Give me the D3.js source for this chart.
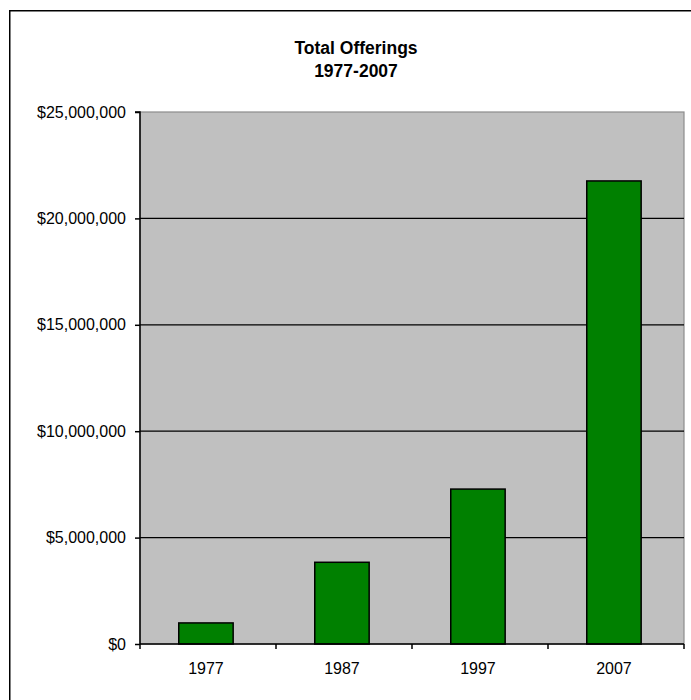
<!DOCTYPE html>
<html>
<head>
<meta charset="utf-8">
<script src="https://cdn.jsdelivr.net/npm/d3@7"></script>
<style>
  body { margin: 0; background: #fff; }
  text { font-family: Arial, "Liberation Sans", sans-serif; fill: #000; }
</style>
</head>
<body>
<svg id="chart"></svg>
<script>
// data
var years = ["1977", "1987", "1997", "2007"];
var offerings = [990000, 3840000, 7280000, 21760000];
var yTicks = [0, 5000000, 10000000, 15000000, 20000000, 25000000];
var titleLines = ["Total Offerings", "1977-2007"];

var WIDTH = 691,
    HEIGHT = 700;
var PLOT = { left: 140, top: 112, right: 684, bottom: 644 };

var svg = d3.select("#chart")
    .attr("width", WIDTH)
    .attr("height", HEIGHT);

// outer chart border (runs off the right and bottom of the picture)
svg.append("rect")
    .attr("x", 9.75)
    .attr("y", 10.75)
    .attr("width", 800)
    .attr("height", 800)
    .style("fill", "#fff")
    .style("stroke", "#000")
    .style("stroke-width", 1.5);

var x = d3.scaleBand()
    .domain(years)
    .range([PLOT.left, PLOT.right])
    .paddingInner(0.6)
    .paddingOuter(0.3)
    .align(0.475);

var y = d3.scaleLinear()
    .domain([0, 25000000])
    .range([PLOT.bottom, PLOT.top]);

// plot area
svg.append("rect")
    .attr("x", PLOT.left)
    .attr("y", PLOT.top)
    .attr("width", PLOT.right - PLOT.left)
    .attr("height", PLOT.bottom - PLOT.top)
    .style("fill", "#c0c0c0")
    .style("stroke", "#8c8c8c")
    .style("stroke-width", 1.2);

// gridlines
svg.append("g")
  .selectAll("line")
    .data(yTicks.filter(function(d) { return d > 0 && d < 25000000; }))
  .enter().append("line")
    .attr("x1", PLOT.left)
    .attr("x2", PLOT.right)
    .attr("y1", function(d) { return y(d); })
    .attr("y2", function(d) { return y(d); })
    .style("stroke", "#000")
    .style("stroke-width", 1.3);

// bars
svg.append("g")
  .selectAll("rect")
    .data(offerings)
  .enter().append("rect")
    .attr("x", function(d, i) { return x(years[i]); })
    .attr("width", x.bandwidth())
    .attr("y", function(d) { return y(d); })
    .attr("height", function(d) { return y(0) - y(d); })
    .style("fill", "#008000")
    .style("stroke", "#000")
    .style("stroke-width", 1.5);

// y axis
var yAxis = d3.axisLeft(y)
    .tickValues(yTicks)
    .tickSize(5)
    .tickPadding(9)
    .tickFormat(function(d) { return "$" + d3.format(",")(d); });

var gy = svg.append("g")
    .attr("transform", "translate(" + PLOT.left + ",0)")
    .call(yAxis);
gy.select(".domain").attr("d", "M-5," + PLOT.top + "H0V" + PLOT.bottom)
    .style("stroke-width", 1.5);
gy.selectAll("line").style("stroke-width", 1.5);
gy.selectAll("text")
    .style("font-size", "16px")
    .style("fill", "#000");

// x axis, ticks sit between the categories
var xEdges = d3.range(years.length + 1).map(function(i) {
  return PLOT.left + i * (PLOT.right - PLOT.left) / years.length;
});

var gx = svg.append("g");
gx.append("line")
    .attr("x1", PLOT.left)
    .attr("x2", PLOT.right)
    .attr("y1", PLOT.bottom)
    .attr("y2", PLOT.bottom)
    .style("stroke", "#000")
    .style("stroke-width", 1.5);
gx.selectAll(".edge")
    .data(xEdges)
  .enter().append("line")
    .attr("class", "edge")
    .attr("x1", function(d) { return d; })
    .attr("x2", function(d) { return d; })
    .attr("y1", PLOT.bottom)
    .attr("y2", PLOT.bottom + 5)
    .style("stroke", "#000")
    .style("stroke-width", 1.5);
gx.selectAll(".lbl")
    .data(years)
  .enter().append("text")
    .attr("class", "lbl")
    .attr("x", function(d) { return x(d) + x.bandwidth() / 2; })
    .attr("y", 674)
    .attr("text-anchor", "middle")
    .style("font-size", "16px")
    .text(function(d) { return d; });

// title
svg.append("g")
  .selectAll("text")
    .data(titleLines)
  .enter().append("text")
    .attr("x", 356)
    .attr("y", function(d, i) { return 54 + i * 23; })
    .attr("text-anchor", "middle")
    .style("font-size", "17.5px")
    .style("font-weight", "bold")
    .text(function(d) { return d; });
</script>
</body>
</html>
